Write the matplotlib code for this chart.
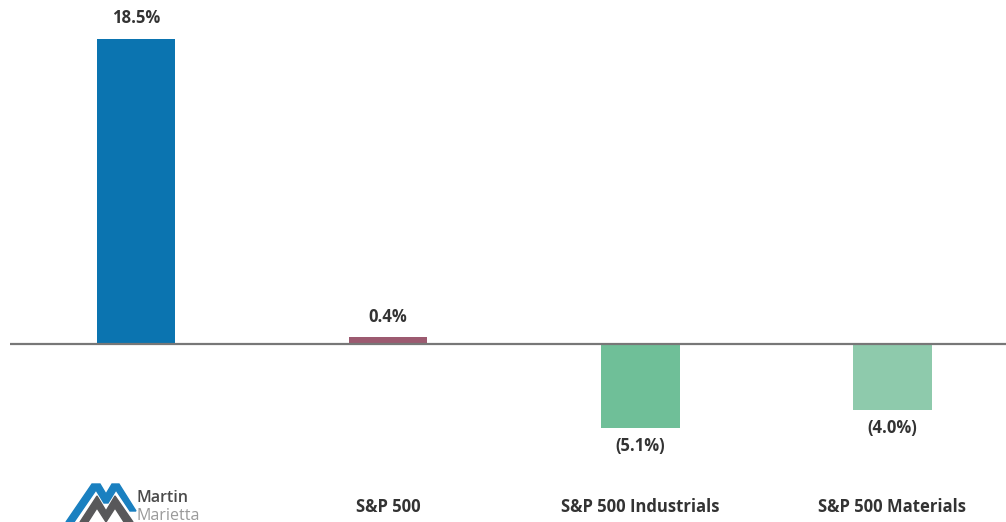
import matplotlib.pyplot as plt
from matplotlib.patches import Polygon

plt.rcParams['font.family'] = ['Open Sans', 'DejaVu Sans']

categorias = ["", "S&P 500", "S&P 500 Industrials", "S&P 500 Materials"]
valores = [18.5, 0.4, -5.1, -4.0]
etiquetas = ["18.5%", "0.4%", "(5.1%)", "(4.0%)"]
colores = ["#0b74b0", "#9c5a70", "#6fbf98", "#8ecaac"]

fig = plt.figure(figsize=(10.06, 5.22), dpi=100)
ax = fig.add_axes([10 / 1006, 0, 996 / 1006, 1])
x = list(range(len(valores)))
barras = ax.bar(x, valores, width=0.313, color=colores, zorder=2)
ax.axhline(0, color="#777777", linewidth=1.6, zorder=3)
ax.set_xlim(-0.5, 3.452)
ax.set_ylim(-10.79, 20.85)
ax.axis("off")

for i, v in enumerate(valores):
    if v >= 0:
        ax.text(i, v + 0.7, etiquetas[i], ha="center", va="bottom",
                fontsize=12, fontweight="bold", color="#333333")
    else:
        ax.text(i, v - 0.55, etiquetas[i], ha="center", va="top",
                fontsize=12, fontweight="bold", color="#333333")

for i, c in enumerate(categorias):
    if c:
        ax.text(i, -9.9, c, ha="center", va="center",
                fontsize=12, fontweight="bold", color="#333333")

# logo Martin Marietta aproximado
lg = fig.add_axes([0, 0, 1, 1])
lg.set_xlim(0, 1006)
lg.set_ylim(522, 0)
lg.axis("off")
azul = [(66, 522), (92, 484), (100, 484), (106, 494), (112, 484), (119, 484),
        (136, 511), (130, 511), (116, 490), (108, 503), (104, 503), (96, 490), (74, 522)]
gris = [(80, 522), (97, 496), (106, 511), (115, 496), (133, 522), (124, 522),
        (115, 508), (106, 522), (97, 508), (88, 522)]
lg.add_patch(Polygon(azul, closed=True, color="#1a80c0"))
lg.add_patch(Polygon(gris, closed=True, color="#58585a"))
lg.text(137, 498, "Martin", ha="left", va="center", fontsize=11.5,
        color="#4a4a4a", fontweight="semibold")
lg.text(137, 516, "Marietta", ha="left", va="center", fontsize=11.5,
        color="#9a9a9a")

fig.savefig("out.png", dpi=100)
